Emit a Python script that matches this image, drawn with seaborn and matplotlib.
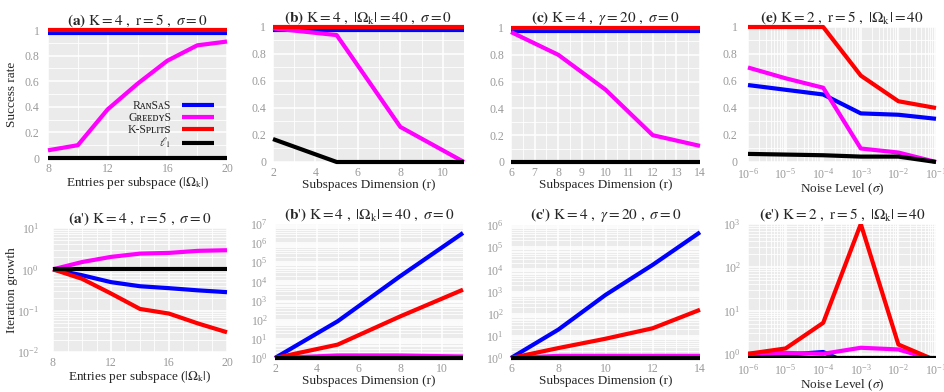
import numpy as np
import pandas as pd
import matplotlib
matplotlib.use("Agg")
import matplotlib.pyplot as plt
import matplotlib.ticker as mt
import seaborn as sns

# ---------------- data ----------------
methods = ["RᴀɴSᴀS", "GʀᴇᴇᴅʏS", "K-Sᴘʟɪᴛꜱ", r"$\ell_1$"]
colors = ["#0000ff", "#ff00ff", "#ff0000", "#000000"]

x_a = [8, 10, 12, 14, 16, 18, 20]
sr_a_ransas = [0.98] * 7
sr_a_greedy = [0.06, 0.10, 0.38, 0.58, 0.76, 0.88, 0.91]
sr_a_ksplit = [1.0] * 7
sr_a_l1 = [0.0] * 7

x_b = [2, 5, 8, 11]
sr_b_ransas = [0.98, 0.98, 0.98, 0.98]
sr_b_greedy = [0.99, 0.94, 0.26, 0.0]
sr_b_ksplit = [1.0, 1.0, 1.0, 1.0]
sr_b_l1 = [0.17, 0.0, 0.0, 0.0]

x_c = [6, 8, 10, 12, 14]
sr_c_ransas = [0.98] * 5
sr_c_greedy = [0.97, 0.80, 0.54, 0.20, 0.12]
sr_c_ksplit = [1.0] * 5
sr_c_l1 = [0.0] * 5

x_e = [1e-6, 1e-5, 1e-4, 1e-3, 1e-2, 1e-1]
sr_e_ransas = [0.57, 0.535, 0.50, 0.36, 0.35, 0.32]
sr_e_greedy = [0.70, 0.62, 0.55, 0.10, 0.07, 0.0]
sr_e_ksplit = [1.0, 1.0, 1.0, 0.64, 0.45, 0.40]
sr_e_l1 = [0.06, 0.055, 0.05, 0.04, 0.04, 0.0]

it_a_ransas = [1.0, 0.72, 0.49, 0.39, 0.35, 0.31, 0.28]
it_a_greedy = [1.0, 1.5, 2.0, 2.4, 2.5, 2.8, 2.9]
it_a_ksplit = [1.0, 0.59, 0.26, 0.11, 0.085, 0.049, 0.030]
it_a_l1 = [1.0] * 7

it_b_ransas = [1.0, 83, 1.9e4, 3.4e6]
it_b_greedy = [1.0, 1.35, 1.35, 1.2]
it_b_ksplit = [1.0, 5.0, 150, 3700]
it_b_l1 = [1.0] * 4

it_c_ransas = [1.0, 19, 700, 1.6e4, 4.7e5]
it_c_greedy = [1.0, 1.25, 1.25, 1.25, 1.25]
it_c_ksplit = [1.0, 2.8, 7.4, 22, 150]
it_c_l1 = [1.0] * 5

it_e_ransas = [0.9, 0.95, 1.1, 0.45, 0.35, 0.35]
it_e_greedy = [1.0, 1.05, 1.0, 1.38, 1.26, 0.7]
it_e_ksplit = [1.0, 1.33, 5.2, 1000, 1.64, 0.7]
it_e_l1 = [0.8] * 6

titles = [
    r"$\mathbf{(a)}\ \mathrm{K}=4\ ,\ \mathrm{r}=5\ ,\ \sigma=0$",
    r"$\mathbf{(b)}\ \mathrm{K}=4\ ,\ |\Omega_{\mathrm{k}}|=40\ ,\ \sigma=0$",
    r"$\mathbf{(c)}\ \mathrm{K}=4\ ,\ \gamma=20\ ,\ \sigma=0$",
    r"$\mathbf{(e)}\ \mathrm{K}=2\ ,\ \mathrm{r}=5\ ,\ |\Omega_{\mathrm{k}}|=40$",
    r"$\mathbf{(a\text{'})}\ \mathrm{K}=4\ ,\ \mathrm{r}=5\ ,\ \sigma=0$",
    r"$\mathbf{(b\text{'})}\ \mathrm{K}=4\ ,\ |\Omega_{\mathrm{k}}|=40\ ,\ \sigma=0$",
    r"$\mathbf{(c\text{'})}\ \mathrm{K}=4\ ,\ \gamma=20\ ,\ \sigma=0$",
    r"$\mathbf{(e\text{'})}\ \mathrm{K}=2\ ,\ \mathrm{r}=5\ ,\ |\Omega_{\mathrm{k}}|=40$",
]
xlabels = [r"Entries per subspace ($|\Omega_{\mathrm{k}}|$)",
           "Subspaces Dimension (r)", "Subspaces Dimension (r)",
           r"Noise Level ($\sigma$)"]

# ---------------- style ----------------
sns.set_theme(style="darkgrid", rc={"axes.facecolor": "#ebebeb",
                                     "grid.color": "white"})
plt.rcParams["font.family"] = ["Liberation Serif", "DejaVu Serif", "DejaVu Sans"]
plt.rcParams["mathtext.fontset"] = "stix"

W, H = 945, 392
fig = plt.figure(figsize=(W / 100, H / 100), dpi=100)


def add_ax(x0, x1, ytop, ybot):
    return fig.add_axes([x0 / W, 1 - ybot / H, (x1 - x0) / W, (ybot - ytop) / H])


def style(ax, title, xlabel=None, ypad=5):
    ax.set_title(title, fontsize=11, pad=4)
    for s in ax.spines.values():
        s.set_visible(False)
    ax.tick_params(axis="both", which="both", length=0, labelsize=8.5,
                   labelcolor="#9a9a9a")
    ax.tick_params(axis="x", which="both", pad=3.5)
    ax.tick_params(axis="y", which="both", pad=ypad)
    ax.grid(True, which="major", color="white", lw=1.1)
    ax.grid(True, which="minor", color="white", lw=0.6)
    if xlabel:
        ax.set_xlabel(xlabel, fontsize=9.5, labelpad=0)
    ax.set_ylabel("")


def plot_series(ax, x, ys, clip=False):
    for y, c, lab in zip(ys, colors, methods):
        sns.lineplot(x=x, y=y, color=c, lw=3, ax=ax, label=lab,
                     legend=False, clip_on=clip, solid_capstyle="butt")


# ---- top row ----
top_pos = [(48, 227, 30, 158), (273, 464, 27, 162), (511, 700, 28, 162), (748, 936, 27, 162)]
top_x = [x_a, x_b, x_c, x_e]
top_y = [
    [sr_a_ransas, sr_a_greedy, sr_a_ksplit, sr_a_l1],
    [sr_b_ransas, sr_b_greedy, sr_b_ksplit, sr_b_l1],
    [sr_c_ransas, sr_c_greedy, sr_c_ksplit, sr_c_l1],
    [sr_e_ransas, sr_e_greedy, sr_e_ksplit, sr_e_l1],
]
top_ypad = [6, 5, 5, 7.5]
top_axes = []
for i in range(4):
    ax = add_ax(*top_pos[i])
    plot_series(ax, top_x[i], top_y[i], clip=False)
    ax.set_ylim(0, 1)
    ax.yaxis.set_major_locator(mt.FixedLocator([0, 0.2, 0.4, 0.6, 0.8, 1]))
    ax.yaxis.set_major_formatter(mt.FixedFormatter(["0", "0.2", "0.4", "0.6", "0.8", "1"]))
    ax.yaxis.set_minor_locator(mt.MultipleLocator(0.1))
    top_axes.append(ax)
    style(ax, titles[i], xlabels[i], ypad=top_ypad[i])

ax = top_axes[0]
ax.set_xlim(8, 20)
ax.xaxis.set_major_locator(mt.MultipleLocator(4))
ax.xaxis.set_minor_locator(mt.MultipleLocator(2))
ax.set_ylabel("Success rate", fontsize=9.5)
ax.yaxis.set_label_coords(-0.165, 0.5)
ax = top_axes[1]
ax.set_xlim(2, 11)
ax.xaxis.set_major_locator(mt.MultipleLocator(2))
ax.xaxis.set_minor_locator(mt.MultipleLocator(1))
ax = top_axes[2]
ax.set_xlim(6, 14)
ax.xaxis.set_major_locator(mt.MultipleLocator(1))
ax.xaxis.set_minor_locator(mt.MultipleLocator(0.5))
ax = top_axes[3]
ax.set_xscale("log")
ax.set_xlim(1e-6, 1e-1)
ax.xaxis.set_major_locator(mt.LogLocator(base=10, numticks=20))
ax.xaxis.set_minor_locator(mt.LogLocator(base=10, subs=np.arange(2, 10), numticks=20))
ax.xaxis.set_minor_formatter(mt.NullFormatter())

# legend on (a)
h, l = top_axes[0].get_legend_handles_labels()
leg = top_axes[0].legend(h, l, loc="lower right", bbox_to_anchor=(0.925, 0.06),
                         frameon=False, markerfirst=False, fontsize=8.5,
                         handlelength=2.7, handletextpad=0.9, labelspacing=0.0,
                         borderpad=0.0, borderaxespad=0.0)
for t in leg.get_texts():
    t.set_ha("right")

# ---- bottom row ----
bot_pos = [(53, 227, 228, 352), (275, 463, 224, 358), (511, 700, 225, 358), (748, 936, 224, 358)]
bot_y = [
    [it_a_ransas, it_a_greedy, it_a_ksplit, it_a_l1],
    [it_b_ransas, it_b_greedy, it_b_ksplit, it_b_l1],
    [it_c_ransas, it_c_greedy, it_c_ksplit, it_c_l1],
    [it_e_ransas, it_e_greedy, it_e_ksplit, it_e_l1],
]
bot_ylim = [(1e-2, 10), (1, 1e7), (1, 1e6), (0.8, 1000)]
bot_axes = []
for i in range(4):
    ax = add_ax(*bot_pos[i])
    plot_series(ax, top_x[i], bot_y[i], clip=(i == 3))
    ax.set_yscale("log")
    ax.set_ylim(*bot_ylim[i])
    ax.yaxis.set_major_locator(mt.LogLocator(base=10, numticks=20))
    ax.yaxis.set_minor_locator(mt.LogLocator(base=10, subs=np.arange(2, 10), numticks=20))
    ax.yaxis.set_minor_formatter(mt.NullFormatter())
    bot_axes.append(ax)
    style(ax, titles[4 + i], xlabels[i], ypad=10 if i == 0 else 5)

ax = bot_axes[0]
ax.set_xlim(8, 20)
ax.xaxis.set_major_locator(mt.MultipleLocator(4))
ax.xaxis.set_minor_locator(mt.MultipleLocator(1))
ax.set_ylabel("Iteration growth", fontsize=9.5)
ax.yaxis.set_label_coords(-0.2, 0.5)
ax = bot_axes[1]
ax.set_xlim(2, 11)
ax.xaxis.set_major_locator(mt.MultipleLocator(2))
ax.xaxis.set_minor_locator(mt.MultipleLocator(1))
ax = bot_axes[2]
ax.set_xlim(6, 14)
ax.xaxis.set_major_locator(mt.MultipleLocator(2))
ax.xaxis.set_minor_locator(mt.MultipleLocator(0.5))
ax = bot_axes[3]
ax.set_xscale("log")
ax.set_xlim(1e-6, 1e-1)
ax.xaxis.set_major_locator(mt.LogLocator(base=10, numticks=20))
ax.xaxis.set_minor_locator(mt.LogLocator(base=10, subs=np.arange(2, 10), numticks=20))
ax.xaxis.set_minor_formatter(mt.NullFormatter())

fig.savefig("out.png", dpi=100)
